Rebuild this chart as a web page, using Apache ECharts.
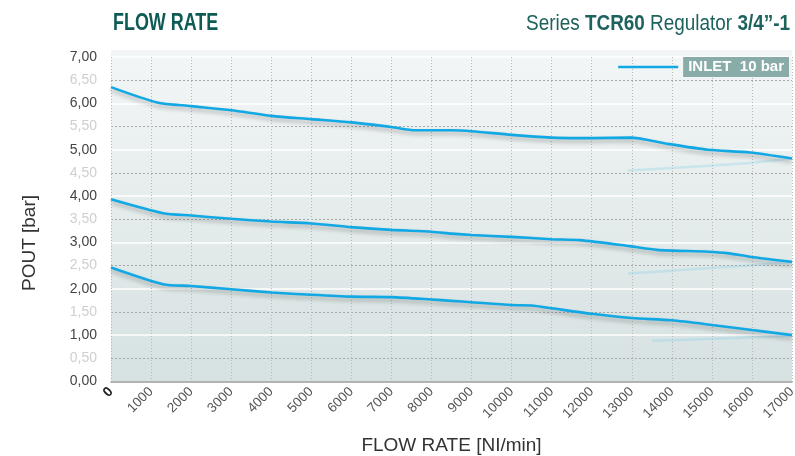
<!DOCTYPE html>
<html>
<head>
<meta charset="utf-8">
<script src="https://cdn.jsdelivr.net/npm/echarts@6/dist/echarts.min.js"></script>
<style>
html,body{margin:0;padding:0;background:#ffffff;}
#chart{width:795px;height:456px;}
</style>
</head>
<body>
<div id="chart"></div>
<script>
// Flow rate (Nl/min) and outlet pressure (bar)
const xTicks = [0,1000,2000,3000,4000,5000,6000,7000,8000,9000,10000,11000,12000,13000,14000,15000,16000,17000];
const yTicks = [0,0.5,1,1.5,2,2.5,3,3.5,4,4.5,5,5.5,6,6.5,7];

const topFlow = [0,1150,2000,3000,4000,5000,6000,7000,7600,8500,9000,10000,11000,11700,12000,13000,13400,13950,14900,15950,17000];
const topPout = [6.35,6.02,5.94,5.85,5.73,5.66,5.59,5.49,5.42,5.42,5.40,5.32,5.26,5.25,5.25,5.26,5.21,5.12,5.00,4.94,4.81];

const midFlow = [0,1300,2000,3000,4000,5000,6000,7000,8000,8500,9000,10000,11000,11700,12950,13630,14900,15380,15950,17000];
const midPout = [3.93,3.63,3.58,3.51,3.45,3.41,3.33,3.27,3.23,3.19,3.16,3.12,3.07,3.05,2.92,2.84,2.80,2.77,2.69,2.58];

const lowFlow = [0,1300,2000,3000,4000,5000,6000,7000,8000,8500,9000,10000,10500,11000,12000,13000,14000,15000,16000,17000];
const lowPout = [2.46,2.10,2.06,1.99,1.92,1.87,1.83,1.82,1.77,1.74,1.71,1.65,1.64,1.58,1.46,1.37,1.32,1.22,1.11,1.00];

// faint return traces near the right end
const ghostTopFlow = [12900,14500,16000,17000];
const ghostTopPout = [4.55,4.63,4.72,4.81];
const ghostMidFlow = [12900,14500,16000,17000];
const ghostMidPout = [2.33,2.42,2.51,2.58];
const ghostLowFlow = [13500,15000,16200,17000];
const ghostLowPout = [0.88,0.92,0.96,1.00];

const legendName = 'INLET  10 bar';
const titleText = 'FLOW RATE';
const xName = 'FLOW RATE [NI/min]';
const yName = 'POUT [bar]';

function pairs(xs, ys){ return xs.map((x,i)=>[x, ys[i]]); }

const chart = echarts.init(document.getElementById('chart'));
const lineColor = '#12a8e4';
const mainLine = (data, name) => ({
  type:'line', name:name, data:data, smooth:0.25, symbol:'none', z:5,
  lineStyle:{color:lineColor, width:2.6, shadowColor:'rgba(0,0,0,0.28)', shadowBlur:4, shadowOffsetY:3},
  itemStyle:{color:lineColor}
});
const ghostLine = (data) => ({
  type:'line', data:data, smooth:0.3, symbol:'none', z:3, silent:true,
  lineStyle:{color:'rgba(130,205,232,0.3)', width:2.5}
});
const narrow = '"Liberation Sans", Arial, sans-serif';

chart.setOption({
  animation:false,
  backgroundColor:'#ffffff',
  graphic:[
    {type:'rect', z:-10, shape:{x:111, y:50, width:681, height:331},
     style:{fill:new echarts.graphic.LinearGradient(0,0,0,1,[{offset:0,color:'#f3f6f6'},{offset:1,color:'#d6e1e1'}])}},
    {type:'text', x:113, y:24, scaleX:0.78,
     style:{text:titleText, fill:'#0e5b56', font:'bold 23px ' + narrow, textAlign:'left', textVerticalAlign:'middle'}},
    {type:'text', x:790, y:24, scaleX:0.86,
     style:{
      text:'{n|Series }{b|TCR60}{n| Regulator }{b|3/4”-1}',
      textAlign:'right', textVerticalAlign:'middle',
      rich:{
        n:{fill:'#1e625d', font:'22px ' + narrow},
        b:{fill:'#1e625d', font:'bold 22px ' + narrow}
      }}},
    {type:'text', x:30, y:243, rotation:Math.PI/2,
     style:{text:yName, fill:'#333', font:'19px ' + narrow, textAlign:'center', textVerticalAlign:'middle'}}
  ],
  legend:{
    data:[legendName], right:1, top:52, itemWidth:60, itemHeight:10, itemGap:0,
    icon:'path://M0,4 L60,4 L60,6.5 L0,6.5 Z',
    textStyle:{color:'#ffffff', fontWeight:'bold', fontSize:15, fontFamily:narrow,
      backgroundColor:'#8aaca8', padding:[3,5,2,5]}
  },
  grid:{left:111, right:3, top:57, bottom:74.5, outerBoundsMode:'none', containLabel:false},
  xAxis:{
    type:'value', min:xTicks[0], max:xTicks[xTicks.length-1], interval:1000,
    name:xName, nameLocation:'middle', nameGap:55,
    nameTextStyle:{fontSize:19, color:'#333', fontFamily:narrow},
    axisLine:{show:true, lineStyle:{color:'#999', width:1.5}},
    axisTick:{show:false},
    splitLine:{show:true, lineStyle:{color:'#b8b8b8', type:[1,2], width:1}},
    axisLabel:{rotate:45, color:'#555', fontSize:13.5, margin:8, showMaxLabel:true,
      fontFamily:narrow,
      formatter:v=> v===0 ? '{z|0}' : String(v),
      rich:{z:{fontWeight:'bold', color:'#222', fontSize:14}}}
  },
  yAxis:[{
    type:'value', min:0, max:7, interval:1,
    axisLine:{show:false}, axisTick:{show:false}, axisLabel:{show:false},
    splitLine:{show:true, lineStyle:{color:'#ffffff', width:1.5}},
    minorTick:{show:false, splitNumber:2},
    minorSplitLine:{show:true, lineStyle:{color:'#a8a8a8', type:[2,2], width:1}}
  },{
    type:'value', min:yTicks[0], max:yTicks[yTicks.length-1], interval:0.5, position:'left',
    axisLine:{show:false}, axisTick:{show:false}, splitLine:{show:false},
    axisLabel:{fontSize:14, margin:14, fontFamily:narrow,
      formatter:v=>{
        const s = v.toFixed(2).replace('.', ',');
        return Math.abs(v - Math.round(v)) < 1e-9 ? '{i|'+s+'}' : '{h|'+s+'}';
      },
      rich:{i:{color:'#444', fontSize:14}, h:{color:'#cfcfcf', fontSize:14}}}
  }],
  series:[
    ghostLine(pairs(ghostTopFlow, ghostTopPout)),
    ghostLine(pairs(ghostMidFlow, ghostMidPout)),
    ghostLine(pairs(ghostLowFlow, ghostLowPout)),
    mainLine(pairs(topFlow, topPout), legendName),
    mainLine(pairs(midFlow, midPout), legendName),
    mainLine(pairs(lowFlow, lowPout), legendName)
  ]
});
</script>
</body>
</html>
